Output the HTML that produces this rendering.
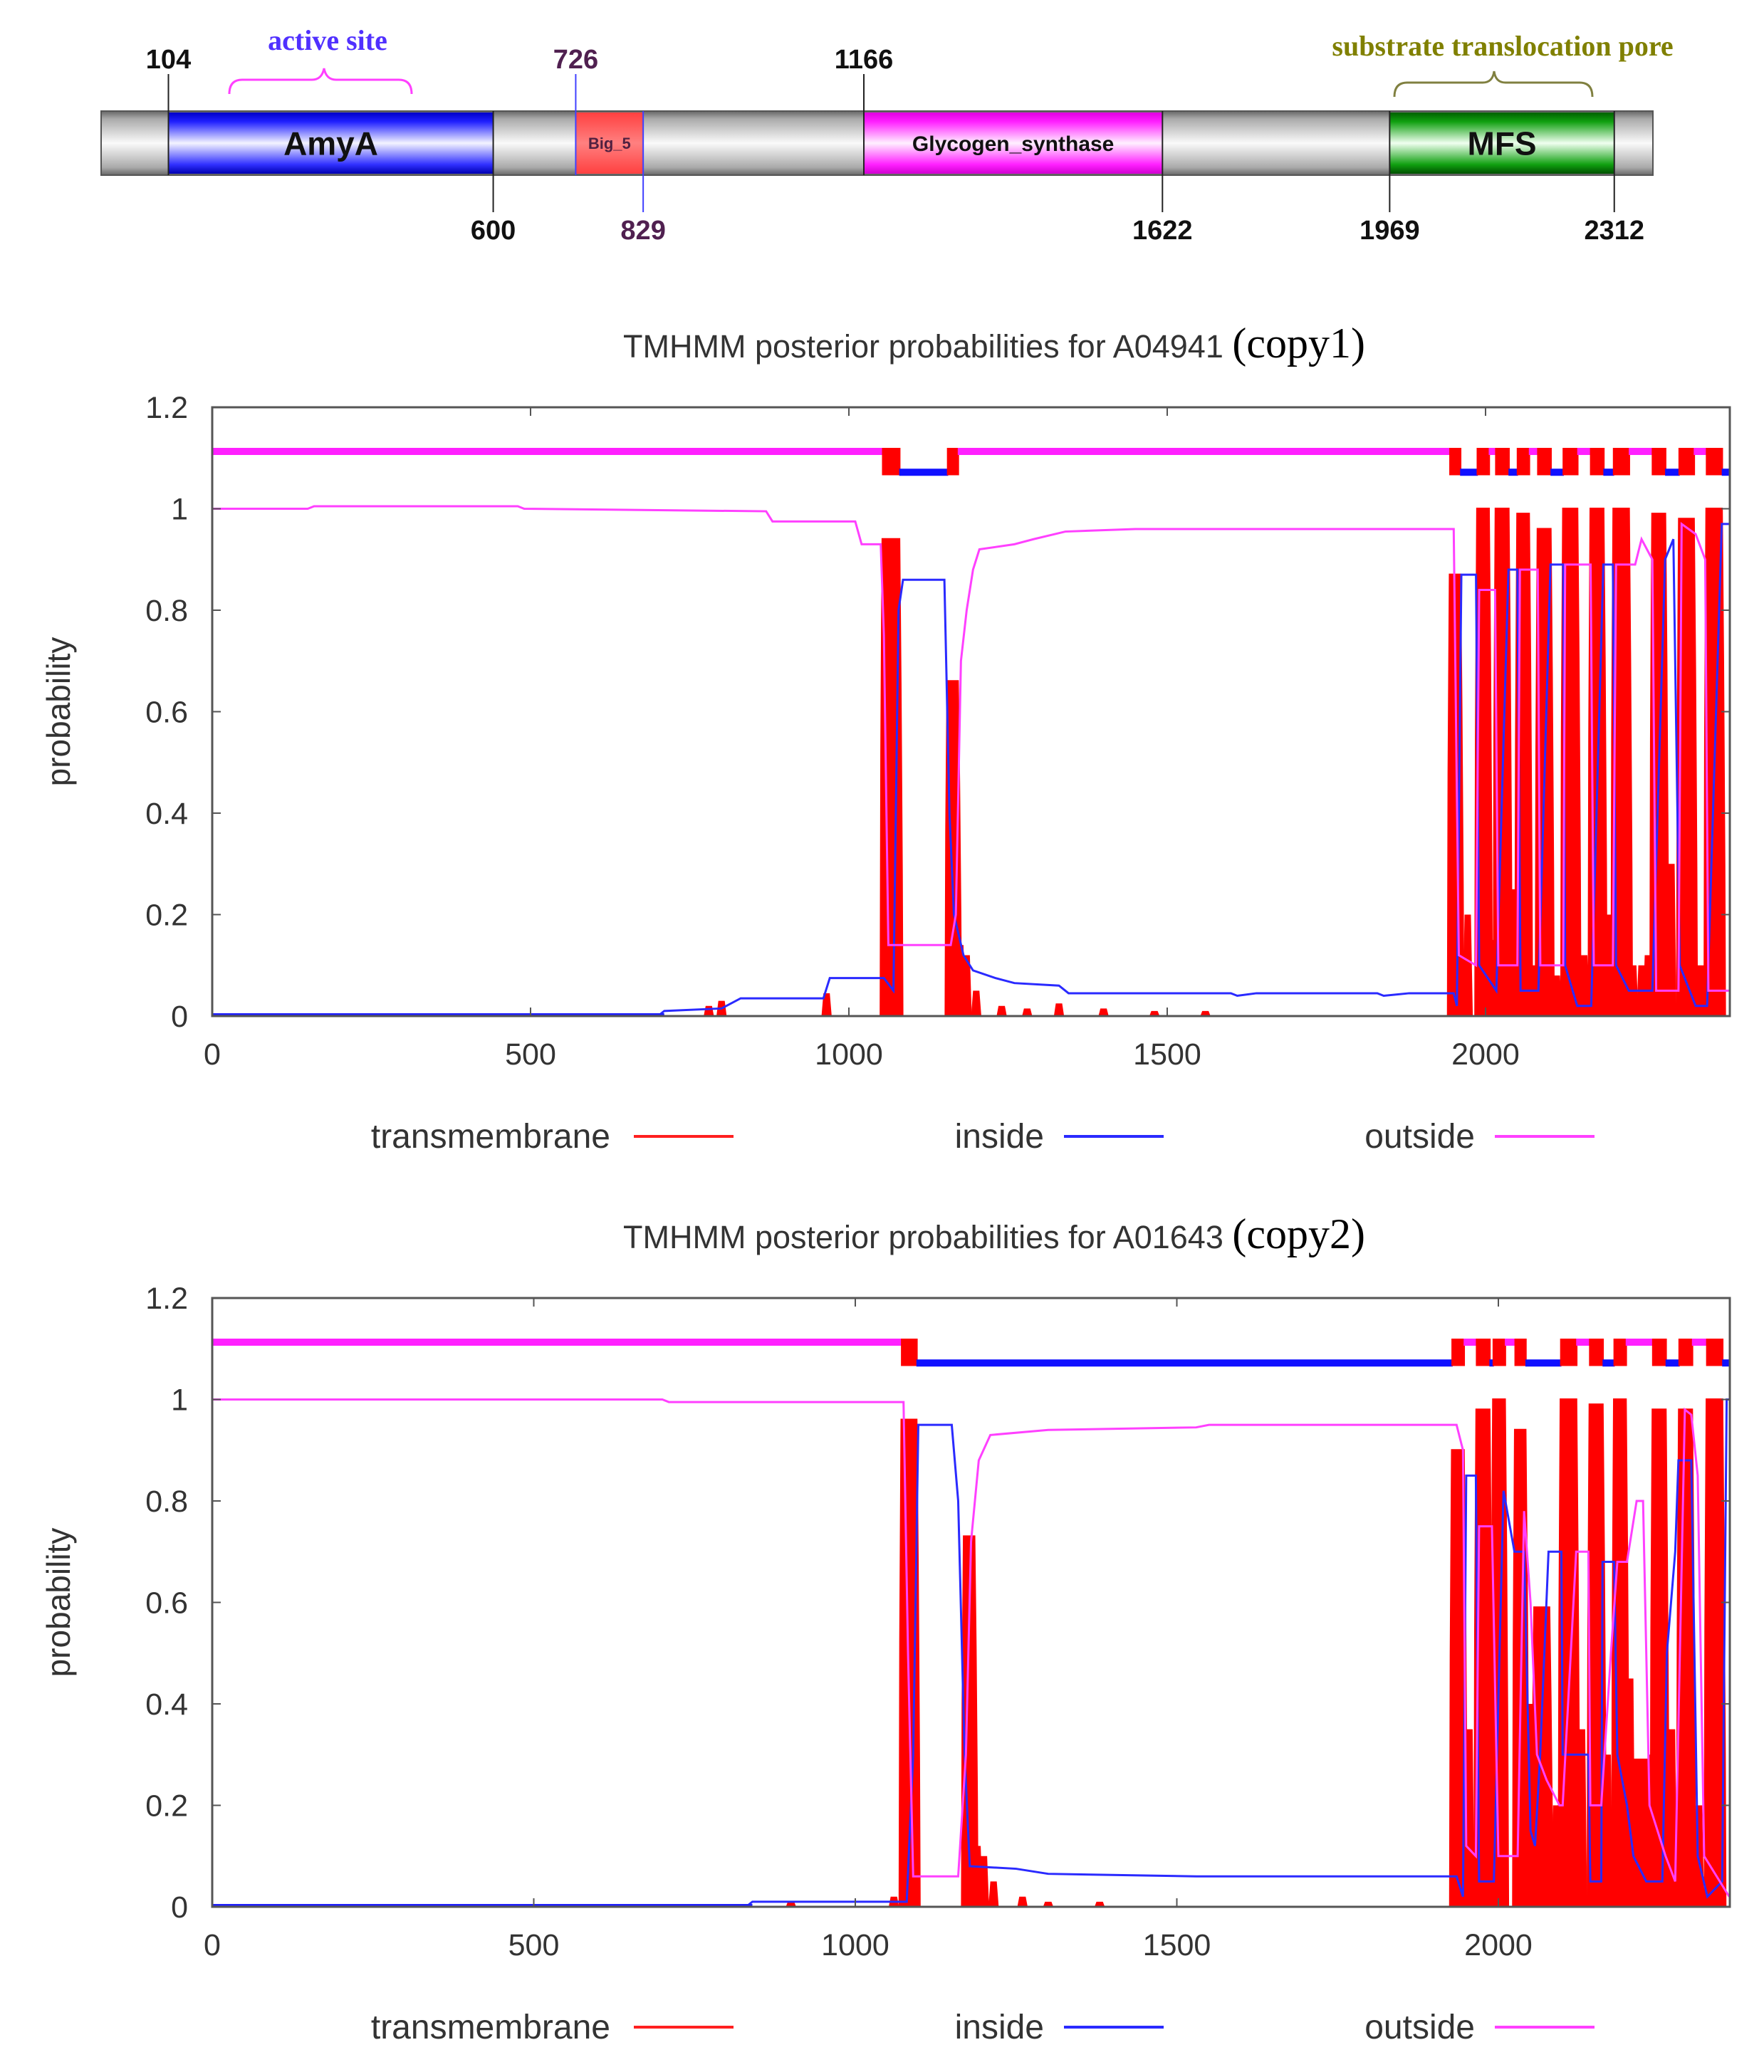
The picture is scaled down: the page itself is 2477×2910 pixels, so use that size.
<!DOCTYPE html>
<html><head><meta charset="utf-8">
<style>
html,body{margin:0;padding:0;background:#fff;}
body{width:2477px;height:2910px;overflow:hidden;position:relative;font-family:"Liberation Sans",sans-serif;}
svg{position:absolute;left:0;top:0;}
</style></head>
<body>
<svg id="fig" width="2477" height="2910" viewBox="0 0 2477 2910">
<defs>
<linearGradient id="gGray" x1="0" y1="0" x2="0" y2="1"><stop offset="0" stop-color="#666"/><stop offset="0.12" stop-color="#aaa"/><stop offset="0.5" stop-color="#fafafa"/><stop offset="0.88" stop-color="#aaa"/><stop offset="1" stop-color="#666"/></linearGradient>
<linearGradient id="gBlue" x1="0" y1="0" x2="0" y2="1"><stop offset="0" stop-color="#0000c8"/><stop offset="0.15" stop-color="#2020ff"/><stop offset="0.5" stop-color="#f4f4ff"/><stop offset="0.85" stop-color="#3030ff"/><stop offset="1" stop-color="#0000b0"/></linearGradient>
<linearGradient id="gRed" x1="0" y1="0" x2="0" y2="1"><stop offset="0" stop-color="#ff4040"/><stop offset="0.5" stop-color="#ff8080"/><stop offset="1" stop-color="#ff4040"/></linearGradient>
<linearGradient id="gMag" x1="0" y1="0" x2="0" y2="1"><stop offset="0" stop-color="#e000e0"/><stop offset="0.15" stop-color="#ff20ff"/><stop offset="0.5" stop-color="#fff0ff"/><stop offset="0.85" stop-color="#ff20ff"/><stop offset="1" stop-color="#d000d0"/></linearGradient>
<linearGradient id="gGreen" x1="0" y1="0" x2="0" y2="1"><stop offset="0" stop-color="#006000"/><stop offset="0.15" stop-color="#10a010"/><stop offset="0.5" stop-color="#f0fff0"/><stop offset="0.85" stop-color="#10a010"/><stop offset="1" stop-color="#005000"/></linearGradient>
</defs>
<g id="diagram"></g>
<g id="chart1"></g>
<g id="chart2"></g>
</svg>
<script>
// ---------- Domain diagram data ----------
const domainNames = ["AmyA","Big_5","Glycogen_synthase","MFS"];
const domainStarts = [104,726,1166,1969];
const domainEnds = [600,829,1622,2312];
const domainFills = ["url(#gBlue)","url(#gRed)","url(#gMag)","url(#gGreen)"];
const topLabels = [104,726,1166];
const bottomLabels = [600,829,1622,1969,2312];

// ---------- Chart 1 (copy1) data ----------
const c1Length = 2383;
const c1Outside = [[0,1.0],[150,1.0],[160,1.005],[480,1.005],[490,1.0],[870,0.995],[880,0.975],[1010,0.975],[1020,0.93],[1050,0.93],[1055,0.75],[1062,0.14],[1160,0.14],[1168,0.2],[1176,0.7],[1185,0.8],[1195,0.88],[1205,0.92],[1260,0.93],[1290,0.94],[1340,0.955],[1450,0.96],[1950,0.96],[1958,0.12],[1985,0.1],[1990,0.84],[2015,0.84],[2020,0.1],[2050,0.1],[2054,0.88],[2082,0.88],[2086,0.1],[2122,0.1],[2125,0.89],[2165,0.89],[2170,0.1],[2200,0.1],[2205,0.89],[2235,0.89],[2245,0.94],[2262,0.9],[2268,0.05],[2303,0.05],[2308,0.97],[2330,0.95],[2345,0.9],[2350,0.05],[2383,0.05]];
const c1Inside = [[0,0.0],[700,0.0],[710,0.01],[800,0.015],[830,0.035],[960,0.035],[970,0.075],[1055,0.075],[1070,0.05],[1078,0.8],[1085,0.86],[1150,0.86],[1158,0.4],[1165,0.2],[1180,0.12],[1195,0.09],[1230,0.075],[1260,0.065],[1330,0.06],[1345,0.045],[1600,0.045],[1610,0.04],[1640,0.045],[1830,0.045],[1840,0.04],[1880,0.045],[1950,0.045],[1955,0.02],[1962,0.87],[1985,0.87],[1990,0.1],[2017,0.05],[2036,0.88],[2050,0.88],[2055,0.05],[2083,0.05],[2102,0.89],[2122,0.89],[2125,0.1],[2144,0.02],[2166,0.02],[2185,0.89],[2200,0.89],[2205,0.1],[2225,0.05],[2262,0.05],[2282,0.9],[2295,0.94],[2305,0.1],[2330,0.02],[2348,0.02],[2371,0.97],[2383,0.97]];
const c1HelixStart = [1054,1156,1945,1988,2017,2051,2083,2123,2166,2202,2263,2305,2348];
const c1HelixEnd = [1079,1171,1960,2005,2036,2068,2102,2144,2185,2225,2282,2327,2371];
const c1HelixPeak = [0.94,0.66,0.87,1.0,1.0,0.99,0.96,1.0,1.0,1.0,0.99,0.98,1.0];
const c1HelixPredicted = [1,1,1,1,1,1,1,1,1,1,1,1,1];
const c1BumpPos = [780,800,965,1175,1185,1200,1240,1280,1330,1400,1480,1560,1972,2010,2042,2075,2112,2155,2195,2232,2245,2255,2292,2338];
const c1BumpVal = [0.02,0.03,0.045,0.14,0.12,0.05,0.02,0.015,0.025,0.015,0.01,0.01,0.2,0.15,0.25,0.1,0.08,0.12,0.2,0.1,0.1,0.12,0.3,0.1];

// ---------- Chart 2 (copy2) data ----------
const c2Length = 2359;
const c2Outside = [[0,1.0],[700,1.0],[710,0.995],[1075,0.995],[1082,0.5],[1090,0.06],[1160,0.06],[1172,0.3],[1180,0.72],[1192,0.88],[1210,0.93],[1300,0.94],[1530,0.945],[1550,0.95],[1935,0.95],[1945,0.9],[1950,0.12],[1965,0.1],[1970,0.75],[1990,0.75],[2000,0.1],[2030,0.1],[2040,0.78],[2050,0.6],[2060,0.3],[2075,0.25],[2095,0.2],[2100,0.2],[2121,0.7],[2140,0.7],[2143,0.2],[2160,0.2],[2175,0.5],[2185,0.68],[2200,0.68],[2215,0.8],[2225,0.8],[2235,0.2],[2260,0.1],[2275,0.05],[2290,0.98],[2300,0.97],[2310,0.85],[2320,0.1],[2359,0.02]];
const c2Inside = [[0,0.0],[830,0.0],[840,0.01],[1080,0.01],[1090,0.3],[1098,0.95],[1150,0.95],[1160,0.8],[1170,0.3],[1178,0.08],[1250,0.075],[1300,0.065],[1530,0.06],[1935,0.06],[1945,0.02],[1950,0.85],[1965,0.85],[1970,0.05],[1993,0.05],[2008,0.82],[2025,0.7],[2040,0.7],[2050,0.15],[2057,0.12],[2065,0.3],[2078,0.7],[2098,0.7],[2100,0.3],[2140,0.3],[2143,0.05],[2160,0.05],[2162,0.68],[2180,0.68],[2185,0.3],[2200,0.2],[2210,0.1],[2230,0.05],[2255,0.05],[2262,0.5],[2275,0.7],[2280,0.88],[2300,0.88],[2310,0.1],[2325,0.02],[2348,0.05],[2355,1.0],[2359,1.0]];
const c2HelixStart = [1073,1170,1929,1967,1993,2027,2057,2098,2143,2181,2211,2241,2282,2325];
const c2HelixEnd = [1095,1185,1946,1986,2010,2042,2079,2121,2162,2198,2233,2260,2301,2348];
const c2HelixPeak = [0.96,0.73,0.9,0.98,1.0,0.94,0.59,1.0,0.99,1.0,0.29,0.98,0.98,1.0];
const c2HelixPredicted = [1,0,1,1,1,1,0,1,1,1,0,1,1,1];
const c2BumpPos = [830,900,1060,1190,1200,1215,1260,1300,1380,1955,1990,2050,2090,2130,2170,2205,2237,2270,2312];
const c2BumpVal = [0.005,0.01,0.02,0.12,0.1,0.05,0.02,0.01,0.01,0.35,0.3,0.4,0.2,0.35,0.3,0.45,0.3,0.35,0.2];

const yTickVals = [0,0.2,0.4,0.6,0.8,1,1.2];
const yTickLabels = ["0","0.2","0.4","0.6","0.8","1","1.2"];
const xTickVals = [0,500,1000,1500,2000];
const xTickLabels = ["0","500","1000","1500","2000"];

const NS = "http://www.w3.org/2000/svg";
function mk(parent, tag, attrs, text){
  const e = document.createElementNS(NS, tag);
  for (const k in attrs) e.setAttribute(k, attrs[k]);
  if (text !== undefined) e.textContent = text;
  parent.appendChild(e);
  return e;
}

// ---------- Domain diagram ----------
(function(){
  const g = document.getElementById('diagram');
  const dx = r => 236.5 + (r - 104) * 0.9195;
  const bar = mk(g,'rect',{x:142,y:156,width:2179,height:90,fill:'url(#gGray)',stroke:'#555','stroke-width':2});
  
  
  for (let i=0;i<domainNames.length;i++){
    const x1 = dx(domainStarts[i]), x2 = dx(domainEnds[i]);
    const r = mk(g,'rect',{x:x1,y:158,width:x2-x1,height:86,fill:domainFills[i]});
    
    
    const small = domainNames[i]==='Big_5';
    const fs = small ? 22 : (domainNames[i]==='Glycogen_synthase' ? 30 : 46);
    const t = mk(g,'text',{x:(x1+x2)/2,y:201+fs*0.36,'text-anchor':'middle','font-size':fs,'font-weight':'bold',fill:small?'#502040':'#111','font-family':'Liberation Sans, sans-serif'},domainNames[i]);
    
    
  }
  topLabels.forEach(v=>{
    const x = dx(v); const purple = v===726;
    mk(g,'line',{x1:x,y1:104,x2:x,y2:246,stroke:purple?'#4040ff':'#222','stroke-width':2});
    const t = mk(g,'text',{x:x,y:96,'text-anchor':'middle','font-size':38,'font-weight':'bold',fill:purple?'#502050':'#111'},String(v));
    
    
  });
  bottomLabels.forEach(v=>{
    const x = dx(v); const purple = v===829;
    mk(g,'line',{x1:x,y1:156,x2:x,y2:298,stroke:purple?'#4040ff':'#222','stroke-width':2});
    const t = mk(g,'text',{x:x,y:336,'text-anchor':'middle','font-size':38,'font-weight':'bold',fill:purple?'#502050':'#111'},String(v));
    
    
  });
  const a = mk(g,'text',{x:460,y:70,'text-anchor':'middle','font-size':40,'font-weight':'bold',fill:'#5030ff','font-family':'Liberation Serif, serif'},'active site');
  
  
  const b1 = mk(g,'path',{d:'M322,132 Q322,112 340,112 L438,112 Q452,112 455,96 Q458,112 472,112 L560,112 Q578,112 578,132',fill:'none',stroke:'#ff40ff','stroke-width':3});
  
  
  const s = mk(g,'text',{x:2110,y:78,'text-anchor':'middle','font-size':40,'font-weight':'bold',fill:'#808000','font-family':'Liberation Serif, serif'},'substrate translocation pore');
  
  
  const b2 = mk(g,'path',{d:'M1958,136 Q1958,116 1976,116 L2082,116 Q2096,116 2098,100 Q2100,116 2114,116 L2218,116 Q2236,116 2236,136',fill:'none',stroke:'#808040','stroke-width':3});
  
  
})();

// ---------- TMHMM chart ----------
function drawChart(gid, cfg){
  const g = document.getElementById(gid);
  const L = 298, R = 2429, T = cfg.top, B = cfg.bottom;
  const xs = r => L + r * cfg.pxPerRes;
  const ys = v => B - v * (B - T) / 1.2;
  const clip = 'clip-'+gid;
  const cp = mk(g,'clipPath',{id:clip});
  mk(cp,'rect',{x:L,y:T,width:R-L,height:B-T});
  const plot = mk(g,'g',{'clip-path':'url(#'+clip+')'});

  const tt = mk(g,'text',{x:875,y:T-70,'font-size':45,fill:'#333','font-family':'Liberation Sans, sans-serif'});
  
  
  mk(tt,'tspan',{},'TMHMM posterior probabilities for '+cfg.id+' ');
  mk(tt,'tspan',{'font-size':60,fill:'#000','font-family':'Liberation Serif, serif'},cfg.copy);

  for (let i=0;i<cfg.bp.length;i++){
    const x=cfg.bp[i], v=cfg.bv[i];
    const poly = mk(plot,'polygon',{points:[[x-8,0],[x-5,v],[x+5,v],[x+8,0]].map(q=>xs(q[0])+','+ys(q[1])).join(' '),fill:'#ff0000'});
    
    
  }
  for (let i=0;i<cfg.hs.length;i++){
    const s=cfg.hs[i]-3, e=cfg.he[i]+3, p=cfg.hp[i];
    const pts=[[s-1,0],[s,p*0.55],[s+2,p],[e-3,p],[e-1,p*0.7],[e+1,p*0.3],[e+2,0]];
    const poly = mk(plot,'polygon',{points:pts.map(q=>xs(q[0])+','+ys(q[1])).join(' '),fill:'#ff0000',stroke:'#ff0000','stroke-width':3});
    
    
  }
  const pin = mk(plot,'polyline',{points:cfg.inside.map(q=>xs(q[0])+','+ys(q[1])).join(' '),fill:'none',stroke:'#2a2aff','stroke-width':3});
  
  
  const pout = mk(plot,'polyline',{points:cfg.outside.map(q=>xs(q[0])+','+ys(q[1])).join(' '),fill:'none',stroke:'#ff40ff','stroke-width':3});
  
  
  mk(plot,'line',{x1:L,y1:B-2,x2:xs(cfg.inside.find(q=>q[1]>0)[0]),y2:B-2,stroke:'#2020ff','stroke-width':4});

  let side = 'out', pos = 0;
  const segs = [];
  for (let i=0;i<cfg.hs.length;i++){
    if (!cfg.pred[i]) continue;
    segs.push([pos, cfg.hs[i], side]);
    segs.push([cfg.hs[i], cfg.he[i], 'tm']);
    pos = cfg.he[i];
    side = side==='out' ? 'in' : 'out';
  }
  segs.push([pos, cfg.len, side]);
  segs.forEach(sg=>{
    let el;
    if (sg[2]==='tm'){
      el = mk(plot,'rect',{x:xs(sg[0]-2),y:ys(1.12),width:xs(sg[1]+2)-xs(sg[0]-2),height:ys(1.066)-ys(1.12),fill:'#ff0000'});
    } else {
      const v = sg[2]==='out' ? 1.113 : 1.072;
      el = mk(plot,'line',{x1:xs(sg[0]),y1:ys(v),x2:xs(sg[1]),y2:ys(v),stroke:sg[2]==='out'?'#ff20ff':'#1010ff','stroke-width':10});
    }
    
    
  });

  const fr = mk(g,'rect',{x:L,y:T,width:R-L,height:B-T,fill:'none',stroke:'#555','stroke-width':3});
  
  
  yTickVals.forEach((v,i)=>{
    const y = ys(v);
    mk(g,'line',{x1:L,y1:y,x2:L+12,y2:y,stroke:'#555','stroke-width':2});
    mk(g,'line',{x1:R,y1:y,x2:R-12,y2:y,stroke:'#555','stroke-width':2});
    const t = mk(g,'text',{x:264,y:y+15,'text-anchor':'end','font-size':43,fill:'#333'},yTickLabels[i]);
    
    
  });
  xTickVals.forEach((v,i)=>{
    const x = xs(v);
    mk(g,'line',{x1:x,y1:B,x2:x,y2:B-12,stroke:'#555','stroke-width':2});
    mk(g,'line',{x1:x,y1:T,x2:x,y2:T+12,stroke:'#555','stroke-width':2});
    const t = mk(g,'text',{x:x,y:B+68,'text-anchor':'middle','font-size':43,fill:'#333'},xTickLabels[i]);
    
    
  });
  const yl = mk(g,'text',{x:0,y:0,'text-anchor':'middle','font-size':46,fill:'#333',transform:'translate(98,'+((T+B)/2)+') rotate(-90)'},'probability');
  
  

  const ly = B + 169;
  const leg = [['transmembrane',857,890,'#ff2020'],['inside',1466,1494,'#2a2aff'],['outside',2071,2099,'#ff40ff']];
  leg.forEach(l=>{
    const t = mk(g,'text',{x:l[1],y:ly+16,'text-anchor':'end','font-size':48,fill:'#333'},l[0]);
    
    
    const ln = mk(g,'line',{x1:l[2],y1:ly,x2:l[2]+140,y2:ly,stroke:l[3],'stroke-width':4});
    
    
  });
}

drawChart('chart1',{id:'A04941',copy:'(copy1)',top:572,bottom:1427,pxPerRes:0.894,len:c1Length,
  inside:c1Inside,outside:c1Outside,hs:c1HelixStart,he:c1HelixEnd,hp:c1HelixPeak,pred:c1HelixPredicted,bp:c1BumpPos,bv:c1BumpVal});
drawChart('chart2',{id:'A01643',copy:'(copy2)',top:1823,bottom:2678,pxPerRes:0.903,len:c2Length,
  inside:c2Inside,outside:c2Outside,hs:c2HelixStart,he:c2HelixEnd,hp:c2HelixPeak,pred:c2HelixPredicted,bp:c2BumpPos,bv:c2BumpVal});
</script>
</body></html>
